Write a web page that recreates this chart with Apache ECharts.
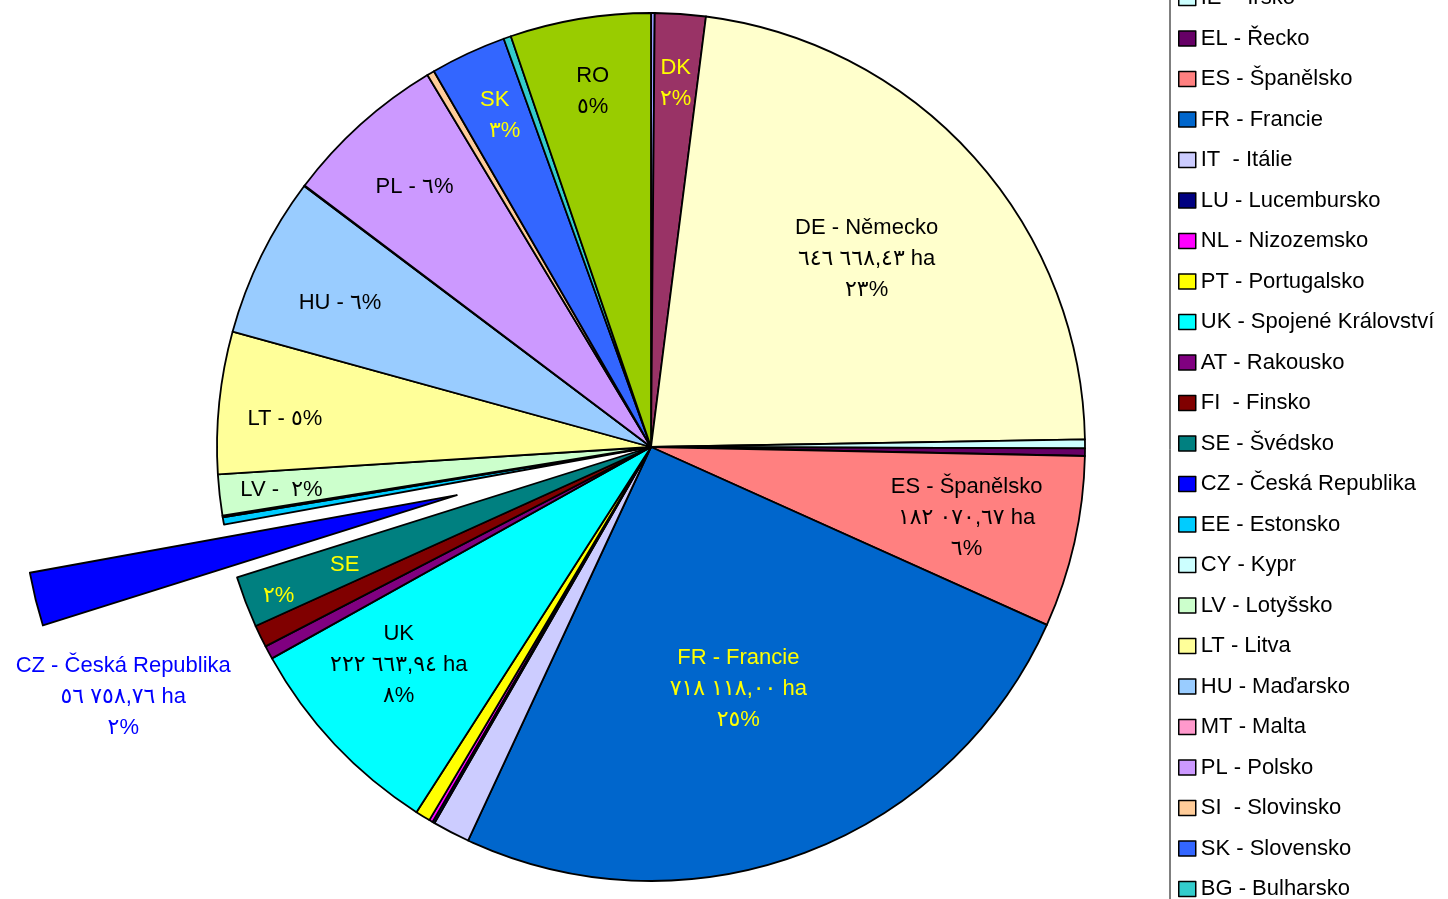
<!DOCTYPE html>
<html>
<head>
<meta charset="utf-8">
<script src="https://cdn.jsdelivr.net/npm/echarts@6/dist/echarts.min.js"></script>
<style>
  html, body { margin: 0; padding: 0; background: #fff; }
  #main { width: 1448px; height: 899px; }
</style>
</head>
<body>
<div id="main"></div>
<script>
// plochy v ha, poradi jako v legende (po smeru hodin od 12:00)
var codes = ['BE','DK','DE','IE','EL','ES','FR','IT','LU','NL','PT','UK','AT','FI','SE','CZ','EE','CY','LV','LT','HU','MT','PL','SI','SK','BG','RO'];
var names = ['BE - Belgie','DK - Dánsko','DE - Německo','IE  - Irsko','EL - Řecko','ES - Španělsko','FR - Francie','IT  - Itálie','LU - Lucembursko','NL - Nizozemsko','PT - Portugalsko','UK - Spojené Království','AT - Rakousko','FI  - Finsko','SE - Švédsko','CZ - Česká Republika','EE - Estonsko','CY - Kypr','LV - Lotyšsko','LT - Litva','HU - Maďarsko','MT - Malta','PL - Polsko','SI  - Slovinsko','SK - Slovensko','BG - Bulharsko','RO - Rumunsko'];
var areas = [3900, 53700, 646668.43, 9500, 7900, 182070.67, 718118.00, 39500, 2400, 3900, 15800, 222663.94, 14200, 23700, 54400, 56758.76, 7900, 1600, 43500, 150700, 170400, 800, 173600, 7900, 80500, 7900, 149100];

// excel paleta
var colors = ['#9999FF','#993366','#FFFFCC','#CCFFFF','#660066','#FF8080','#0066CC','#CCCCFF','#000080','#FF00FF','#FFFF00','#00FFFF','#800080','#800000','#008080','#0000FF','#00CCFF','#CCFFFF','#CCFFCC','#FFFF99','#99CCFF','#FF99CC','#CC99FF','#FFCC99','#3366FF','#33CCCC','#99CC00'];

// popisky: jaky text
var labelTitle = { DK: 'DK', DE: 'DE - Německo', ES: 'ES - Španělsko', FR: 'FR - Francie', UK: 'UK', SE: 'SE', CZ: 'CZ - Česká Republika', LV: 'LV -  ', LT: 'LT - ', HU: 'HU - ', PL: 'PL - ', SK: 'SK', RO: 'RO' };
var labelWithHa = { DE: true, ES: true, FR: true, UK: true, CZ: true };
var labelInline = { LV: true, LT: true, HU: true, PL: true };
var labelColor = { DK: '#FFFF00', FR: '#FFFF00', SE: '#FFFF00', SK: '#FFFF00', CZ: '#0000FF' };
// umisteni popisku: [podil polomeru, posun uhlu ve stupnich]
var labelPlace = { DK: [0.84, 0], DE: [0.66, 0.7], ES: [0.745, -0.1], FR: [0.593, 0.6], UK: [0.768, 2.4], SE: [0.84, -0.5], CZ: [1.345, -11.4], LV: [0.857, -0.2], LT: [0.846, -1.5], HU: [0.79, -1.3], PL: [0.81, -0.3], SK: [0.84, 0.4], RO: [0.83, 0.1] };
// posun prvniho radku doprava / druheho doleva (px)
var labelSkew = { SE: 66, SK: -10 };

var CX = 651, CY = 447, R = 434, EXPLODE = 200;
var FONT = "'Liberation Sans', Arial, 'DejaVu Sans', sans-serif";

var total = areas.reduce(function (a, b) { return a + b; }, 0);
var midAngles = [];
var acc = 0;
areas.forEach(function (v) {
    midAngles.push((acc + v / 2) / total * 360);
    acc += v;
});

function arDigits(s) {
    return String(s).replace(/[0-9]/g, function (d) { return '٠١٢٣٤٥٦٧٨٩'[d]; });
}
function fmtHa(v) {
    var p = v.toFixed(2).split('.');
    var groups = p[0].replace(/\B(?=(\d{3})+(?!\d))/g, '\u200E ');
    return arDigits(groups + ',' + p[1]) + ' ha';
}
function fmtPct(v) {
    return arDigits(Math.round(v / total * 100)) + '%';
}

function labelText(p) {
    var c = codes[p.dataIndex];
    var t = labelTitle[c];
    if (labelInline[c]) return t + fmtPct(p.value);
    if (labelWithHa[c]) return t + '\n' + fmtHa(p.value) + '\n' + fmtPct(p.value);
    if (labelSkew[c]) {
        var s = labelSkew[c];
        return '{' + (s > 0 ? 'r' : 'l') + Math.abs(s) + '|' + t + '}\n{' + (s > 0 ? 'l' : 'r') + Math.abs(s) + '|' + fmtPct(p.value) + '}';
    }
    return t + '\n' + fmtPct(p.value);
}

function placeLabel(p) {
    var c = codes[p.dataIndex];
    var pl = labelPlace[c];
    if (!pl) return {};
    var a = (midAngles[p.dataIndex] + pl[1]) * Math.PI / 180;
    var d = pl[0] * R;
    return {
        x: CX + d * Math.sin(a),
        y: CY - d * Math.cos(a),
        align: 'center',
        verticalAlign: 'middle'
    };
}

// rich styly pro posunute radky
var rich = {};
Object.keys(labelSkew).forEach(function (c) {
    var s = Math.abs(labelSkew[c]);
    rich['r' + s] = { padding: [0, 0, 0, s], fontSize: 22, lineHeight: 31, fontFamily: FONT };
    rich['l' + s] = { padding: [0, s, 0, 0], fontSize: 22, lineHeight: 31, fontFamily: FONT };
});

var pieData = [];
var czLabelData = [];
for (var i = 0; i < codes.length; i++) {
    var c = codes[i];
    var item = {
        name: names[i],
        value: areas[i],
        itemStyle: { color: colors[i] },
        label: { show: !!labelTitle[c] && c !== 'CZ', color: labelColor[c] || '#000' }
    };
    if (c === 'CZ') item.selected = true;
    pieData.push(item);
    // vysunuta vysec CZ ma popisek zvlast (select stav prepisuje labelLayout)
    czLabelData.push({
        name: names[i],
        value: areas[i],
        label: { show: c === 'CZ', color: labelColor[c] || '#000' }
    });
}

var labelBase = {
    position: 'inside',
    fontSize: 22,
    lineHeight: 31,
    fontFamily: FONT,
    align: 'center',
    formatter: labelText,
    rich: rich
};

var myChart = echarts.init(document.getElementById('main'));

var option = {
    animation: false,
    backgroundColor: '#fff',
    legend: {
        orient: 'vertical',
        left: 1170,
        top: -139.5,
        height: 1150,
        padding: [5, 40, 5, 8],
        itemGap: 18.5,
        itemWidth: 17,
        itemHeight: 15,
        icon: 'rect',
        selectedMode: false,
        borderColor: '#000',
        borderWidth: 1,
        itemStyle: { borderColor: '#000', borderWidth: 1.5 },
        textStyle: { fontSize: 22, fontFamily: FONT, color: '#000' },
        data: names
    },
    series: [
        {
            type: 'pie',
            center: [CX, CY],
            radius: R,
            startAngle: 90,
            clockwise: true,
            selectedMode: 'single',
            selectedOffset: EXPLODE,
            avoidLabelOverlap: false,
            itemStyle: { borderColor: '#000', borderWidth: 1.8 },
            emphasis: { disabled: true },
            select: { itemStyle: { borderColor: '#000', borderWidth: 1.8 } },
            labelLine: { show: false },
            label: labelBase,
            labelLayout: placeLabel,
            data: pieData
        },
        {
            type: 'pie',
            silent: true,
            center: [CX, CY],
            radius: R,
            startAngle: 90,
            clockwise: true,
            avoidLabelOverlap: false,
            itemStyle: { color: 'rgba(0,0,0,0)', borderWidth: 0 },
            emphasis: { disabled: true },
            labelLine: { show: false },
            label: labelBase,
            labelLayout: placeLabel,
            data: czLabelData
        }
    ]
};

myChart.setOption(option);
</script>
</body>
</html>
